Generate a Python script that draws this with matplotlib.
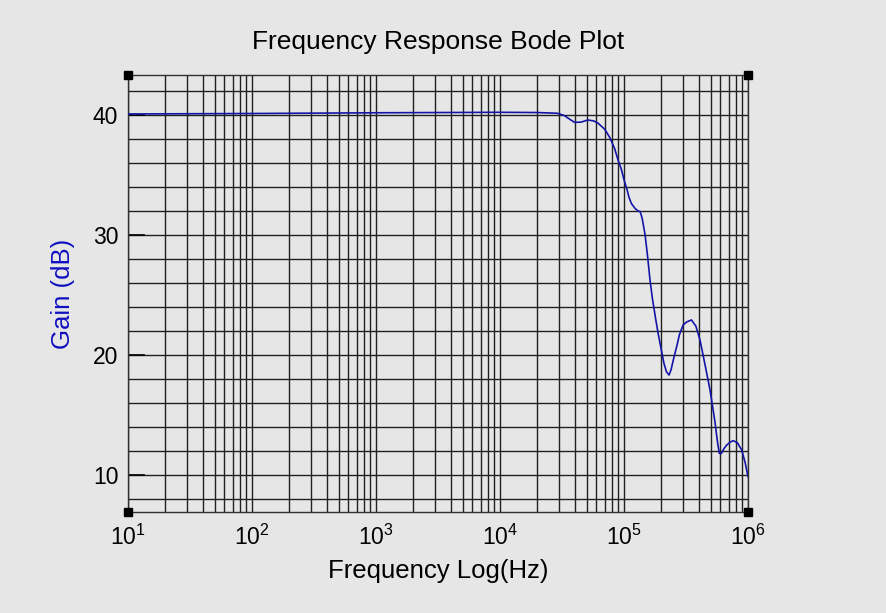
import matplotlib.pyplot as plt
from matplotlib.ticker import LogLocator, FixedLocator, MultipleLocator
import numpy as np

plt.rcParams['font.family'] = ['Liberation Sans', 'DejaVu Sans']
plt.rcParams['mathtext.fontset'] = 'custom'
plt.rcParams['mathtext.rm'] = 'Liberation Sans'
plt.rcParams['mathtext.it'] = 'Liberation Sans'
plt.rcParams['mathtext.default'] = 'regular'

# frequency (Hz) and gain (dB)
freq = [10, 100, 1e3, 1e4, 2e4, 2.9e4, 3.3e4, 3.7e4, 4.0e4, 4.5e4, 5.1e4, 5.7e4, 6.2e4,
        7.0e4, 7.7e4, 8.4e4, 8.95e4, 9.5e4, 1.0e5, 1.06e5, 1.1e5, 1.15e5, 1.23e5,
        1.3e5, 1.35e5, 1.4e5, 1.44e5, 1.48e5, 1.55e5, 1.62e5, 1.7e5, 1.8e5, 1.9e5,
        2.01e5, 2.1e5, 2.2e5, 2.31e5, 2.4e5, 2.5e5, 2.66e5, 2.8e5, 3.0e5, 3.2e5,
        3.5e5, 3.8e5, 4.1e5, 4.5e5, 4.94e5, 5.4e5, 5.7e5, 5.88e5, 6.1e5, 6.4e5,
        6.74e5, 7.2e5, 7.6e5, 8.2e5, 8.9e5, 9.5e5, 1e6]
gain = [40.08, 40.12, 40.18, 40.22, 40.2, 40.14, 39.95, 39.6, 39.38, 39.4, 39.58, 39.5, 39.3,
        38.8, 38.1, 37.2, 36.25, 35.5, 34.6, 33.75, 33.1, 32.6, 32.2,
        32.0, 31.94, 31.4, 30.7, 30.0, 28.2, 26.25, 24.6, 23.0, 21.6,
        20.3, 19.3, 18.6, 18.33, 18.8, 19.6, 20.7, 21.7, 22.5, 22.75,
        22.92, 22.4, 21.25, 19.2, 17.08, 14.5, 12.6, 11.8, 11.8, 12.2,
        12.5, 12.75, 12.86, 12.7, 12.08, 11.0, 9.86]

x_lim = (10, 1e6)
y_lim = (6.92, 43.33)
y_labels = [10, 20, 30, 40]

bg = '#e6e6e6'
fig = plt.figure(figsize=(8.87, 6.13), dpi=100, facecolor=bg)
ax = fig.add_axes([0.1443, 0.1648, 0.699, 0.7129], facecolor=bg)

ax.plot(freq, gain, color='#1414a8', lw=1.2, zorder=3)
ax.set_xscale('log')
ax.set_xlim(x_lim)
ax.set_ylim(y_lim)

ax.xaxis.set_major_locator(LogLocator(base=10, numticks=10))
ax.xaxis.set_minor_locator(LogLocator(base=10, subs=np.arange(2, 10), numticks=20))
ax.yaxis.set_major_locator(FixedLocator(y_labels))
ax.yaxis.set_minor_locator(MultipleLocator(2))

ax.grid(True, which='both', axis='both', color='#202020', lw=1.0, zorder=1)
for s in ax.spines.values():
    s.set_color('#303030')
    s.set_linewidth(1.0)

ax.tick_params(axis='x', which='both', length=0, labelsize=16.5, pad=9)
ax.tick_params(axis='y', which='major', direction='in', length=12, width=1.2,
               labelsize=16.5, pad=7)
ax.tick_params(axis='y', which='minor', length=0)

# corner markers
cx = [x_lim[0], x_lim[1], x_lim[0], x_lim[1]]
cy = [y_lim[1], y_lim[1], y_lim[0], y_lim[0]]
ax.plot(cx, cy, 's', color='black', ms=6, clip_on=False, ls='none', zorder=5)

ax.set_title('Frequency Response Bode Plot', fontsize=19, pad=19)
ax.set_xlabel('Frequency Log(Hz)', fontsize=18.5, labelpad=7)
ax.set_ylabel('Gain (dB)', fontsize=18.5, color='#1010c0', labelpad=13)

fig.savefig('out.png', dpi=100, facecolor=bg)
